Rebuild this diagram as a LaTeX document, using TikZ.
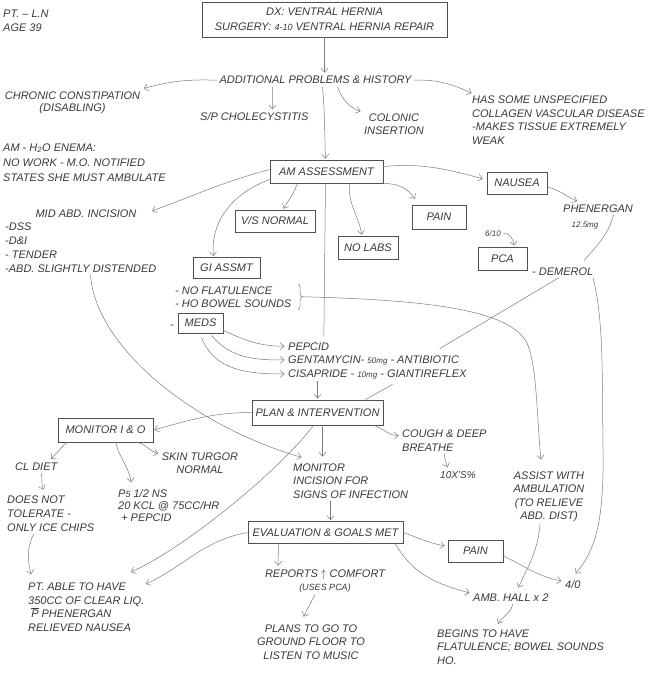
\documentclass[tikz,border=0pt]{standalone}
\usepackage{fontspec}
\setmainfont{Liberation Sans}
\usetikzlibrary{arrows.meta,decorations.pathreplacing}
\definecolor{ink}{HTML}{3A3A3A}
\definecolor{wire}{HTML}{7C7C7C}
\definecolor{frame}{HTML}{505050}

\begin{document}
\begin{tikzpicture}[x=1pt,y=-1pt,
  every node/.style={font=\fontsize{11}{14}\selectfont\itshape,text=ink,inner sep=2.5pt},
  lsp/.style={font=\fontsize{11}{#1}\selectfont\itshape},
  tiny/.style={font=\fontsize{8}{10}\selectfont\itshape},
  box/.style={draw=frame,line width=0.8pt,inner sep=0pt},
  arr/.style={draw=wire,line width=0.5pt,-{Straight Barb[length=4pt,width=7pt]},shorten >=1pt},
  link/.style={draw=wire,line width=0.5pt}]
\path[fill=white] (0,0) rectangle (650,674);

\node[anchor=base west,align=left,lsp=14] (ptinfo) at (0.5,32) {PT. -- L.N\\AGE 39};
\node[box,minimum width=245pt,minimum height=35pt,align=center,lsp=15] (dx) at (324.5,19.5) {DX: VENTRAL HERNIA\\SURGERY: {\small 4-10} VENTRAL HERNIA REPAIR};
\node[anchor=base] (addl) at (315.5,84) {ADDITIONAL PROBLEMS \& HISTORY};
\node[anchor=base,align=center,lsp=13] (chronic) at (72.5,112) {CHRONIC CONSTIPATION\\(DISABLING)};
\node[anchor=base west] (chole) at (197.5,121) {S/P CHOLECYSTITIS};
\node[anchor=base,align=center,lsp=13] (colonic) at (394,134) {COLONIC\\INSERTION};
\node[anchor=base west,align=left,lsp=13.5] (collagen) at (469.5,144.5) {HAS SOME UNSPECIFIED\\COLLAGEN VASCULAR DISEASE\\-MAKES TISSUE EXTREMELY\\WEAK};
\node[anchor=base west,align=left,lsp=15] (enema) at (0.5,181) {AM - H\textsubscript{2}O ENEMA:\\NO WORK - M.O. NOTIFIED\\STATES SHE MUST AMBULATE};

\node[box,minimum width=113pt,minimum height=23pt] (amassess) at (326.5,171.5) {AM ASSESSMENT};
\node[box,minimum width=60pt,minimum height=22pt] (nausea) at (517,183) {NAUSEA};
\node[anchor=base] (midabd) at (86,217) {MID ABD. INCISION};
\node[anchor=base west,align=left,lsp=13.7] (middss) at (2.5,272) {-DSS\\-D\&I\\- TENDER\\-ABD. SLIGHTLY DISTENDED};
\node[box,minimum width=80pt,minimum height=22pt] (vsnormal) at (275,221) {V/S NORMAL};
\node[box,minimum width=60pt,minimum height=23pt] (nolabs) at (368,247.5) {NO LABS};
\node[box,minimum width=54pt,minimum height=24pt] (painam) at (439,217) {PAIN};
\node[anchor=base] (phen) at (598,212) {PHENERGAN};
\node[anchor=base,tiny] (phendose) at (585,227) {12.5mg};
\node[anchor=base,tiny] (sixten) at (493,236) {6/10};
\node[box,minimum width=49pt,minimum height=23pt] (pca) at (502.5,258.5) {PCA};
\node[anchor=base west] (demerol) at (529.5,275) {- DEMEROL};
\node[box,minimum width=67pt,minimum height=21pt] (giassmt) at (226.5,268) {GI ASSMT};
\node[anchor=base west,align=left,lsp=13] (giflat) at (172.5,307) {- NO FLATULENCE\\- HO BOWEL SOUNDS};
\node[anchor=base west] (medsdash) at (167.5,328) {-};
\node[box,minimum width=45pt,minimum height=20pt] (meds) at (200.5,323) {MEDS};
\node[anchor=base west] (pepcid) at (285.5,350) {PEPCID};
\node[anchor=base west] (genta) at (285.5,363) {GENTAMYCIN- {\fontsize{8}{10}\selectfont 50mg} - ANTIBIOTIC};
\node[anchor=base west] (cisa) at (285.5,377) {CISAPRIDE - {\fontsize{8}{10}\selectfont 10mg} - GIANTIREFLEX};

\node[box,minimum width=131pt,minimum height=25pt] (plan) at (317.5,412.5) {PLAN \& INTERVENTION};
\node[box,minimum width=95pt,minimum height=24pt] (monio) at (105.5,430) {MONITOR I \& O};
\node[anchor=base west,align=left,lsp=14] (cough) at (399.5,451) {COUGH \& DEEP\\BREATHE};
\node[anchor=base west,font=\fontsize{10}{12}\selectfont\itshape] (tenx) at (437.5,478) {10X'S\%};
\node[anchor=base west] (cldiet) at (12.5,470) {CL DIET};
\node[anchor=base,align=center,lsp=13] (skin) at (200,473) {SKIN TURGOR\\NORMAL};
\node[anchor=base west,align=left,lsp=12] (pfive) at (115.5,521) {P{\small 5} 1/2 NS\\20 KCL @ 75CC/HR\\\ + PEPCID};
\node[anchor=base west,align=left,lsp=13.5] (moninc) at (290.5,498) {MONITOR\\INCISION FOR\\SIGNS OF INFECTION};
\node[anchor=base,align=center,lsp=13.5] (assist) at (549,519.5) {ASSIST WITH\\AMBULATION\\(TO RELIEVE\\ABD. DIST)};
\node[anchor=base west,align=left,lsp=14] (doesnot) at (4.5,531) {DOES NOT\\TOLERATE -\\ONLY ICE CHIPS};

\node[box,minimum width=155pt,minimum height=22pt] (evalgoals) at (325.5,532.5) {EVALUATION \& GOALS MET};
\node[box,minimum width=55pt,minimum height=22pt] (painev) at (475.5,551) {PAIN};
\node[anchor=base,align=center,lsp=13] (reports) at (325,590) {REPORTS $\uparrow$ COMFORT\\{\small (USES PCA)}};
\node[anchor=base west,align=left,lsp=13.4] (ptable) at (25.5,631) {PT. ABLE TO HAVE\\350CC OF CLEAR LIQ.\\\ $\overline{\mbox{P}}$ PHENERGAN\\RELIEVED NAUSEA};
\node[anchor=base west] (ambhall) at (470.5,601) {AMB. HALL x 2};
\node[anchor=base west] (fourzero) at (562.5,588) {4/0};
\node[anchor=base,align=center,lsp=13.5] (plans) at (311,659) {PLANS TO GO TO\\GROUND FLOOR TO\\LISTEN TO MUSIC};
\node[anchor=base west,align=left,lsp=13.5] (begins) at (434.5,664) {BEGINS TO HAVE\\FLATULENCE; BOWEL SOUNDS\\HO.};

\draw[arr] (dx.south) -- (dx.south |- addl.north);
\draw[arr] (addl.west) to[out=178,in=15] (chronic.north east);
\draw[arr] (addl.east) to[out=2,in=155] ([xshift=3pt]collagen.north west);
\draw[arr] ([xshift=-43pt]addl.south) -- ([xshift=18pt]chole.north);
\draw[arr] ([xshift=22pt]addl.south) to[out=-70,in=160] ([yshift=12pt]colonic.west);
\draw[arr] ([xshift=7pt]addl.south) to[out=-85,in=92] ([xshift=-1pt]amassess.north);

\draw[arr] ([yshift=2pt]amassess.west) to[out=195,in=20] ([xshift=12pt,yshift=2pt]midabd.east);
\draw[arr] ([yshift=-8pt]amassess.west) to[out=200,in=95] ([xshift=-13pt]giassmt.north);
\draw[arr] ([xshift=-29pt]amassess.south) to[out=-110,in=60] ([xshift=8pt]vsnormal.north);
\draw[arr] ([xshift=23pt]amassess.south) to[out=-95,in=100] ([xshift=-6pt]nolabs.north);
\draw[arr] (amassess.south east) to[out=0,in=125] ([xshift=4pt,yshift=5pt]painam.north west);
\draw[arr] ([yshift=5pt]amassess.east) to[out=5,in=165] ([xshift=-3pt,yshift=4pt]nausea.west);
\draw[link] ([xshift=-1pt]amassess.south) -- ([xshift=-8pt,yshift=3pt]pepcid.north east);

\draw[arr] ([yshift=-4pt]nausea.east) to[out=-15,in=155] ([xshift=-20pt]phen.north);
\draw[link] ([xshift=-22pt]phen.south east) to[out=-105,in=50] ([xshift=-12pt,yshift=4pt]demerol.north east);
\draw[link] ([xshift=-4pt]demerol.south) -- ([xshift=-22pt,yshift=4pt]genta.north east);
\draw[arr] ([xshift=-3pt]demerol.south east) .. controls (604,320) and (602,380) .. (603,450) .. controls (604,520) and (596,550) .. ([xshift=2pt,yshift=3pt]fourzero.north);
\draw[arr] (sixten.east) to[out=0,in=100] ([xshift=12pt]pca.north);

\draw[link,decorate,decoration={brace,amplitude=4pt}] ([xshift=4pt]giflat.north east) -- ([xshift=4pt]giflat.south east);
\coordinate (gibrace) at ([xshift=8pt]giflat.east);
\draw[arr] (gibrace) .. controls (430,300) and (510,310) .. (527,343) .. controls (537,365) and (537,420) .. ([xshift=-8pt,yshift=8pt]assist.north);

\draw[arr] ([yshift=3pt]meds.south east) to[out=-25,in=180] (pepcid.west);
\draw[arr] ([xshift=11pt,yshift=-2pt]meds.south) to[out=-50,in=180] (genta.west);
\draw[arr] ([xshift=1pt,yshift=-4pt]meds.south) to[out=-70,in=180] (cisa.west);
\draw[arr] (plan.north |- cisa.south) -- (plan.north);
\draw[link] ([xshift=107pt,yshift=-3pt]cisa.south west) -- ([xshift=-18pt]plan.north east);

\draw[arr] (plan.west) to[out=180,in=15] (monio.east);
\draw[arr] ([xshift=5pt]plan.south) -- ([xshift=32pt,yshift=3pt]moninc.north west);
\draw[arr] ([xshift=-10pt]plan.south east) to[out=-15,in=185] ([yshift=5pt]cough.west);
\draw[arr] ([xshift=45pt]cough.south west) to[out=-90,in=110] ([xshift=-10pt]tenx.north);
\draw[arr] ([xshift=-4pt]plan.south) .. controls (280,470) and (185,548) .. ([xshift=-17pt,yshift=8pt]ptable.north east);
\draw[arr] ([xshift=88pt]middss.south west) .. controls (95,345) and (190,425) .. ([xshift=12pt,yshift=3pt]moninc.north west);

\draw[arr] ([xshift=9pt]monio.south west) -- ([xshift=14pt]cldiet.north);
\draw[arr] ([xshift=10pt]monio.south) to[out=-75,in=100] ([xshift=16pt,yshift=3pt]pfive.north west);
\draw[arr] ([xshift=-16pt]monio.south east) to[out=-15,in=165] ([yshift=9pt]skin.west);
\draw[arr] ([xshift=5pt]cldiet.south) to[out=-80,in=110] ([xshift=-7pt,yshift=2pt]doesnot.north);
\draw[arr] ([xshift=-17pt]doesnot.south) to[out=-115,in=105] ([xshift=6pt,yshift=5pt]ptable.north west);
\draw[arr] ([xshift=40pt]moninc.south west) -- ([xshift=5pt]evalgoals.north);

\draw[arr] (evalgoals.west) to[out=190,in=25] ([xshift=-2pt,yshift=-4pt]ptable.north east);
\draw[arr] ([xshift=-47pt]evalgoals.south) -- ([xshift=-47pt]reports.north);
\draw[arr] (evalgoals.east) to[out=-20,in=170] ([xshift=-2pt,yshift=5pt]painev.west);
\draw[arr] ([xshift=-8pt]evalgoals.south east) to[out=-60,in=165] ([yshift=4pt]ambhall.west);
\draw[arr] ([yshift=-5pt]painev.east) to[out=-25,in=170] ([yshift=3pt]fourzero.west);
\draw[arr] ([xshift=-9pt]assist.south) to[out=-95,in=65] ([xshift=7pt,yshift=2pt]ambhall.north);
\draw[arr] ([xshift=2pt]ambhall.south) to[out=-100,in=60] ([xshift=-23pt,yshift=2pt]begins.north);
\draw[arr] ([xshift=-10pt]reports.south) -- ([xshift=-8pt,yshift=4pt]plans.north);
\end{tikzpicture}
\end{document}
